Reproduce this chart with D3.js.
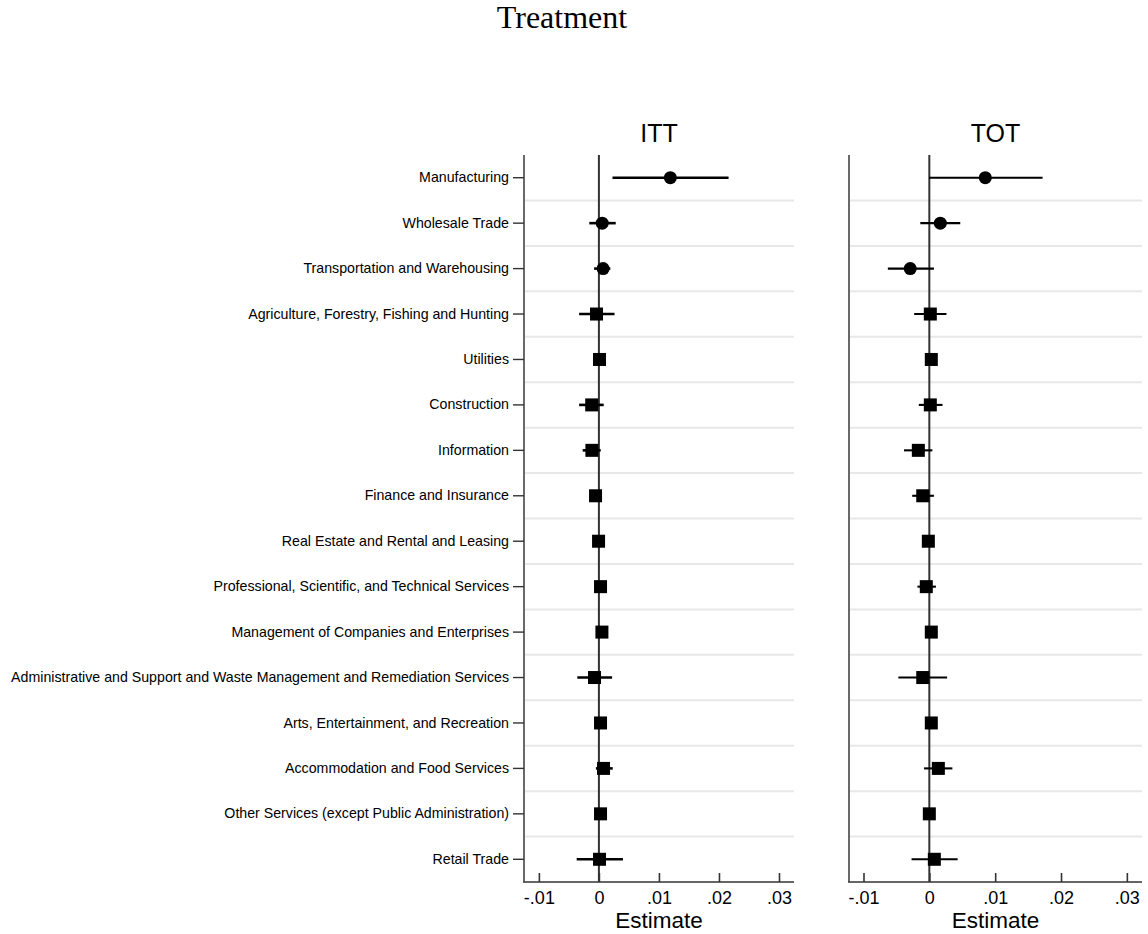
<!DOCTYPE html>
<html>
<head>
<meta charset="utf-8">
<script src="https://cdn.jsdelivr.net/npm/d3@7"></script>
<style>
  html, body { margin: 0; padding: 0; background: #fff; }
  svg { display: block; }
</style>
</head>
<body>
<svg id="chart" width="1148" height="934"></svg>
<script>
// Industry categories, top to bottom
const industries = [
  "Manufacturing",
  "Wholesale Trade",
  "Transportation and Warehousing",
  "Agriculture, Forestry, Fishing and Hunting",
  "Utilities",
  "Construction",
  "Information",
  "Finance and Insurance",
  "Real Estate and Rental and Leasing",
  "Professional, Scientific, and Technical Services",
  "Management of Companies and Enterprises",
  "Administrative and Support and Waste Management and Remediation Services",
  "Arts, Entertainment, and Recreation",
  "Accommodation and Food Services",
  "Other Services (except Public Administration)",
  "Retail Trade"
];

// Marker shape per industry (first three drawn as circles)
const markerShape = ["circle","circle","circle","square","square","square","square","square",
                     "square","square","square","square","square","square","square","square"];

// ITT estimates and 95% confidence bounds
const ittEstimate = [0.0119, 0.00055, 0.0007, -0.0004, 0.0001, -0.0012, -0.00117, -0.00056,
                     -0.00006, 0.00027, 0.0005, -0.00073, 0.00027, 0.00077, 0.00027, 0.0001];
const ittLower    = [0.00226, -0.0016, -0.0008, -0.0033, -0.0006, -0.0033, -0.0027, -0.0013,
                     -0.0007, -0.0005, -0.0002, -0.0036, -0.0004, -0.0005, -0.0004, -0.0037];
const ittUpper    = [0.0216, 0.0028, 0.0019, 0.0026, 0.0008, 0.0008, 0.0003, 0.0002,
                     0.0006, 0.001, 0.0012, 0.0022, 0.0009, 0.0023, 0.0009, 0.004];

// TOT estimates and 95% confidence bounds
const totEstimate = [0.0085, 0.00167, -0.0029, 0.00015, 0.0003, 0.00015, -0.00167, -0.001,
                     -0.00015, -0.00046, 0.0003, -0.001, 0.0003, 0.00137, 0.0, 0.00076];
const totLower    = [-0.00005, -0.00137, -0.0063, -0.0023, -0.0004, -0.0016, -0.00385, -0.0026,
                     -0.0009, -0.0018, -0.0004, -0.0047, -0.0004, -0.0008, -0.0007, -0.0027];
const totUpper    = [0.0172, 0.0047, 0.0007, 0.0026, 0.001, 0.002, 0.00046, 0.0007,
                     0.0006, 0.001, 0.001, 0.0027, 0.001, 0.0035, 0.0007, 0.0043];

// Axis tick values and their labels
const tickValues = [-0.01, 0, 0.01, 0.02, 0.03];
const tickLabels = ["-.01", "0", ".01", ".02", ".03"];

const svg = d3.select("#chart");
const sans = "'Liberation Sans', Arial, Helvetica, sans-serif";

svg.append("text")
  .attr("x", 562).attr("y", 28)
  .attr("text-anchor", "middle")
  .attr("font-family", "'Liberation Serif', 'Times New Roman', serif")
  .attr("font-size", 32)
  .attr("fill", "#000")
  .text("Treatment");

const plotTop = 155, plotBottom = 882;
const y = d3.scaleBand().domain(industries).range([plotTop, plotBottom]).paddingInner(0).paddingOuter(0);

const panels = [
  { title: "ITT", left: 524, right: 794, domain: [-0.01248, 0.0325],
    est: ittEstimate, lo: ittLower, hi: ittUpper, labels: true, ciWidth: 2.6 },
  { title: "TOT", left: 849, right: 1142, domain: [-0.0122, 0.0323],
    est: totEstimate, lo: totLower, hi: totUpper, labels: false, ciWidth: 2.1 }
];

panels.forEach(p => {
  const x = d3.scaleLinear().domain(p.domain).range([p.left, p.right]);
  const g = svg.append("g");

  // horizontal separators between rows
  g.selectAll("line.sep")
    .data(industries.slice(1))
    .join("line")
    .attr("x1", p.left + 1).attr("x2", p.right)
    .attr("y1", d => y(d)).attr("y2", d => y(d))
    .attr("stroke", "#e8e8e8").attr("stroke-width", 2);

  // zero reference line
  g.append("line")
    .attr("x1", x(0)).attr("x2", x(0))
    .attr("y1", plotTop).attr("y2", plotBottom)
    .attr("stroke", "#333").attr("stroke-width", 2);

  // x axis
  const xAxis = d3.axisBottom(x)
    .tickValues(tickValues)
    .tickFormat((d, i) => tickLabels[i])
    .tickSizeInner(-9).tickSizeOuter(0).tickPadding(9);
  const ax = g.append("g").attr("transform", `translate(0,${plotBottom})`).call(xAxis);
  ax.select(".domain").attr("stroke", "#333").attr("stroke-width", 1.6)
    .attr("d", `M${p.left - 1},0H${p.right}`);
  ax.selectAll(".tick line").attr("stroke", "#333").attr("stroke-width", 1.6);
  ax.selectAll(".tick text")
    .attr("font-family", sans).attr("font-size", 18).attr("fill", "#000");

  // left axis line
  g.append("line")
    .attr("x1", p.left).attr("x2", p.left)
    .attr("y1", plotTop).attr("y2", plotBottom)
    .attr("stroke", "#444").attr("stroke-width", 1.6);

  if (p.labels) {
    const yAxis = d3.axisLeft(y).tickSizeInner(11).tickSizeOuter(0).tickPadding(4);
    const ay = g.append("g").attr("transform", `translate(${p.left},0)`).call(yAxis);
    ay.select(".domain").remove();
    ay.selectAll(".tick line").attr("stroke", "#333").attr("stroke-width", 1.4);
    ay.selectAll(".tick text")
      .attr("font-family", sans).attr("font-size", 14.2).attr("fill", "#000");
  }

  // x axis title
  g.append("text")
    .attr("x", (p.left + p.right) / 2).attr("y", 928)
    .attr("text-anchor", "middle")
    .attr("font-family", sans).attr("font-size", 22.5).attr("fill", "#000")
    .text("Estimate");

  // panel title
  g.append("text")
    .attr("x", (p.left + p.right) / 2).attr("y", 142)
    .attr("text-anchor", "middle")
    .attr("font-family", sans).attr("font-size", 25).attr("fill", "#000")
    .text(p.title);

  const rows = industries.map((name, i) => ({
    name, est: p.est[i], lo: p.lo[i], hi: p.hi[i], shape: markerShape[i]
  }));
  const cy = d => y(d.name) + y.bandwidth() / 2;

  // confidence intervals
  g.selectAll("line.ci")
    .data(rows)
    .join("line")
    .attr("x1", d => x(d.lo)).attr("x2", d => x(d.hi))
    .attr("y1", cy).attr("y2", cy)
    .attr("stroke", "#000").attr("stroke-width", p.ciWidth);

  // point estimates
  g.selectAll("circle.pt")
    .data(rows.filter(d => d.shape === "circle"))
    .join("circle")
    .attr("cx", d => x(d.est)).attr("cy", cy).attr("r", 6.5)
    .attr("fill", "#000");

  g.selectAll("rect.pt")
    .data(rows.filter(d => d.shape === "square"))
    .join("rect")
    .attr("x", d => x(d.est) - 6.5).attr("y", d => cy(d) - 6.5)
    .attr("width", 13).attr("height", 13)
    .attr("fill", "#000");
});
</script>
</body>
</html>
